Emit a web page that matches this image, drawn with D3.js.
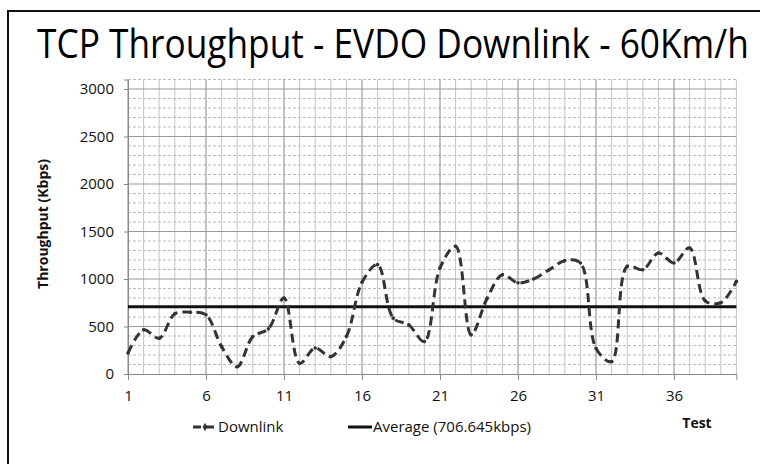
<!DOCTYPE html>
<html><head><meta charset="utf-8">
<script src="https://cdn.jsdelivr.net/npm/d3@7"></script>
<style>body{margin:0;background:#fff;}svg{display:block;}</style>
</head><body>
<svg id="c" width="760" height="464"></svg>
<script>
const title = "TCP Throughput - EVDO Downlink - 60Km/h";
const tests = d3.range(1, 41);
const downlink = [220,465,377,634,650,623,288,77,394,475,800,112,274,183,394,965,1151,588,517,341,1116,1344,412,789,1045,960,1000,1098,1193,1169,271,130,1133,1098,1274,1169,1327,770,750,975];
const average = 706.645;
const yTicks = [0,500,1000,1500,2000,2500,3000];
const xTickLabels = [1,6,11,16,21,26,31,36];
const seriesNames = ["Downlink","Average (706.645kbps)"];

const svg = d3.select("#c");
const font = "'Open Sans', Calibri, sans-serif";
const L = 128, R = 736.4, T = 79.5, B = 374;
const x = d3.scaleLinear().domain([1, 40]).range([L, R]);
const y = d3.scaleLinear().domain([0, 3100]).range([B, T]);

// border
svg.append("rect").attr("x", 8).attr("y", 11).attr("width", 800).attr("height", 500)
  .attr("fill", "none").attr("stroke", "#111").attr("stroke-width", 2);

// title (horizontally condensed to fit like the reference)
const tg = svg.append("g");
const tt = tg.append("text").attr("x", 0).attr("y", 0).attr("font-family", font)
  .attr("font-size", 41).attr("fill", "#000").text(title);
const natW = tt.node().getComputedTextLength();
tg.attr("transform", `translate(37,58) scale(${712 / natW},1)`);

const g = svg.append("g");
// minor horizontal dashed grid
g.append("g").selectAll("line").data(d3.range(100, 3101, 100).filter(v => v % 500 !== 0))
  .join("line").attr("x1", L).attr("x2", R).attr("y1", d => y(d)).attr("y2", d => y(d))
  .attr("stroke", "#bbb").attr("stroke-width", 1).attr("stroke-dasharray", "3,2");
// vertical grid
g.append("g").selectAll("line").data(tests)
  .join("line").attr("x1", d => x(d)).attr("x2", d => x(d)).attr("y1", T).attr("y2", B)
  .attr("stroke", d => xTickLabels.includes(d) ? "#888" : "#c4c4c4").attr("stroke-width", 1);
// major horizontal grid
g.append("g").selectAll("line").data(yTicks.filter(v => v > 0))
  .join("line").attr("x1", L).attr("x2", R).attr("y1", d => y(d)).attr("y2", d => y(d))
  .attr("stroke", "#999").attr("stroke-width", 1);

// axes
const yAxis = d3.axisLeft(y).tickValues(yTicks).tickFormat(d3.format("d")).tickSize(4).tickPadding(10);
const ya = svg.append("g").attr("transform", `translate(${L},0)`).call(yAxis);
ya.select(".domain").attr("stroke", "#888");
ya.selectAll(".tick line").attr("stroke", "#888");
ya.selectAll("text").attr("font-family", font).attr("font-size", 15).attr("fill", "#111");

const xAxis = d3.axisBottom(x).tickValues(xTickLabels).tickFormat(d3.format("d")).tickSize(6).tickPadding(10);
const xa = svg.append("g").attr("transform", `translate(0,${B})`).call(xAxis);
xa.select(".domain").attr("stroke", "#888");
xa.selectAll(".tick line").attr("stroke", "#888");
xa.selectAll("text").attr("font-family", font).attr("font-size", 15).attr("fill", "#111");

// y axis title
svg.append("text").attr("transform", "translate(48,224) rotate(-90)").attr("text-anchor", "middle")
  .attr("font-family", font).attr("font-size", 14).attr("font-weight", "bold").attr("fill", "#111")
  .text("Throughput (Kbps)");

// average line
svg.append("line").attr("x1", L).attr("x2", R).attr("y1", y(average)).attr("y2", y(average))
  .attr("stroke", "#111").attr("stroke-width", 3);

// downlink line
const line = d3.line().x((d, i) => x(tests[i])).y(d => y(d)).curve(d3.curveCatmullRom.alpha(0.5));
svg.append("path").datum(downlink).attr("d", line).attr("fill", "none")
  .attr("stroke", "#333").attr("stroke-width", 3).attr("stroke-dasharray", "9,5");
svg.append("g").selectAll("circle").data(downlink).join("circle")
  .attr("cx", (d, i) => x(tests[i])).attr("cy", d => y(d)).attr("r", 1.8).attr("fill", "#333");

// x axis title
svg.append("text").attr("x", 697).attr("y", 428).attr("text-anchor", "middle")
  .attr("font-family", font).attr("font-size", 14).attr("font-weight", "bold").attr("fill", "#111").text("Test");

// legend
const lg = svg.append("g");
lg.append("line").attr("x1", 193).attr("x2", 217).attr("y1", 427).attr("y2", 427)
  .attr("stroke", "#333").attr("stroke-width", 3).attr("stroke-dasharray", "8,5");
lg.append("path").attr("d", d3.symbol(d3.symbolDiamond, 20)()).attr("transform", "translate(205,427)").attr("fill", "#333");
lg.append("text").attr("x", 218).attr("y", 432).attr("font-family", font).attr("font-size", 15)
  .attr("fill", "#111").text(seriesNames[0]);
lg.append("line").attr("x1", 348).attr("x2", 372).attr("y1", 427).attr("y2", 427)
  .attr("stroke", "#111").attr("stroke-width", 3);
lg.append("text").attr("x", 373).attr("y", 432).attr("font-family", font).attr("font-size", 15)
  .attr("fill", "#111").text(seriesNames[1]);
</script>
</body></html>
